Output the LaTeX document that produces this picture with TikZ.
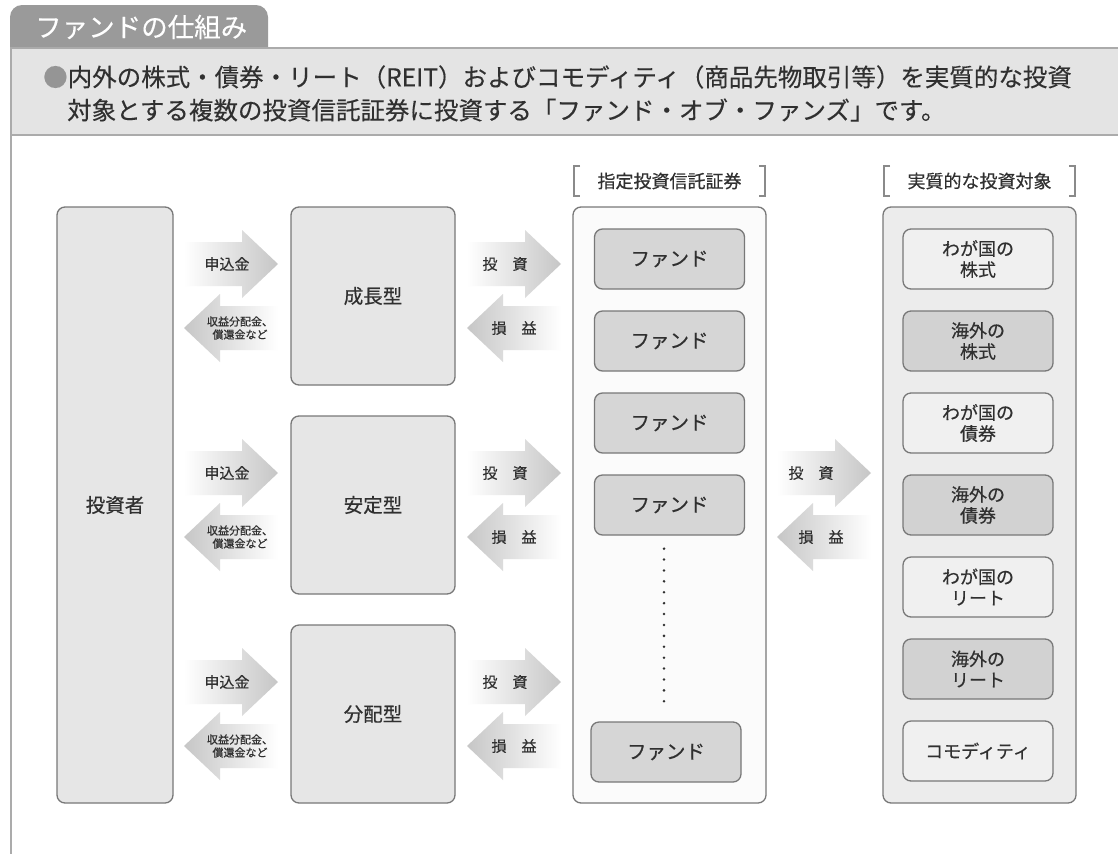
\documentclass[tikz,border=0pt]{standalone}
\usepackage{fontspec}
\setmainfont{Noto Sans CJK JP}[FakeBold=0.5]
\newfontfamily\jpthin{Noto Sans CJK JP}[FakeBold=0.25]
\usetikzlibrary{calc}
\definecolor{tabgray}{HTML}{9A9A9A}
\definecolor{hdrfill}{HTML}{E4E4E4}
\definecolor{hdrline}{HTML}{ABABAB}
\definecolor{bordergray}{HTML}{787878}
\definecolor{boxfill}{HTML}{E6E6E6}
\definecolor{fundfill}{HTML}{D6D6D6}
\definecolor{colfill}{HTML}{ECECEC}
\definecolor{assetlight}{HTML}{F0F0F0}
\definecolor{assetdark}{HTML}{D2D2D2}
\definecolor{fundcol}{HTML}{FBFBFB}
\definecolor{txt}{HTML}{303030}
\definecolor{bulletgray}{HTML}{959595}
\definecolor{arrowgray}{HTML}{C6C6C6}
\definecolor{brgray}{HTML}{8A8A8A}
\newcommand\rblock[2]{%
  \shade[left color=white, right color=arrowgray]
    ({#1},{#2-22}) -- ({#1+58},{#2-22}) -- ({#1+58},{#2-34}) -- ({#1+94},{#2})
    -- ({#1+58},{#2+34}) -- ({#1+58},{#2+22}) -- ({#1},{#2+22}) -- cycle;}
\newcommand\lblock[2]{%
  \shade[left color=arrowgray, right color=white]
    ({#1},{#2}) -- ({#1+36},{#2-34}) -- ({#1+36},{#2-22}) -- ({#1+94},{#2-22})
    -- ({#1+94},{#2+22}) -- ({#1+36},{#2+22}) -- ({#1+36},{#2+34}) -- cycle;}
\begin{document}
\begin{tikzpicture}[x=1pt,y=-1pt,
  bx/.style={draw=bordergray, line width=1.3pt, rounded corners=8pt, inner sep=0pt, text=txt},
  bigtxt/.style={font=\fontsize{19.5}{23}\selectfont},
  fundbox/.style={bx, fill=fundfill, minimum width=150pt, minimum height=60pt, font=\fontsize{19.5}{23}\selectfont},
  assetbox/.style={bx, minimum width=150pt, minimum height=60pt, align=center, font=\fontsize{18}{21}\selectfont},
  arrtxt/.style={text=txt, font=\fontsize{15}{17}\selectfont, inner sep=0pt},
  smalltxt/.style={text=txt, font=\fontsize{11}{13}\selectfont, align=center, inner sep=0pt},
  brk/.style={draw=brgray, line width=1.1pt},
  dotline/.style={draw=txt, line width=2.8pt, line cap=round, dash pattern=on 0pt off 10.9pt}
]
\useasboundingbox (0,0) rectangle (1118,854);
\fill[white] (0,0) rectangle (1118,854);
% tab
\fill[tabgray] (10,49) {[rounded corners=12pt] -- (10,5) -- (268,5)} -- (268,49) -- cycle;
\node[anchor=west, text=white, inner sep=0pt, font=\jpthin\fontsize{26.5}{26}\selectfont] (title) at (35,27) {ファンドの仕組み};
% header band
\fill[hdrfill] (10,48) rectangle (1118,135);
\draw[hdrline, line width=2pt] (10,48) -- (1118,48);
\draw[hdrline, line width=2pt] (10,135) -- (1118,135);
\draw[hdrline, line width=1.6pt] (11,48) -- (11,854);
\node[anchor=west, inner sep=0pt, text=txt, font=\jpthin\fontsize{24.5}{30}\selectfont] (h1) at (43,77)
  {{\color{bulletgray}●}内外の株式・債券・リート（REIT）およびコモディティ（商品先物取引等）を実質的な投資};
\node[anchor=west, inner sep=0pt, text=txt, font=\jpthin\fontsize{24.5}{30}\selectfont] (h2) at (67,110)
  {対象とする複数の投資信託証券に投資する「ファンド・オブ・ファンズ」です。};
% bracket labels
\draw[brk] (580,166) -- (574,166) -- (574,196) -- (580,196);
\draw[brk] (759,166) -- (765,166) -- (765,196) -- (759,196);
\node[text=txt, inner sep=0pt, font=\fontsize{18}{20}\selectfont] (lab1) at (669.5,181) {指定投資信託証券};
\draw[brk] (890,166) -- (884,166) -- (884,196) -- (890,196);
\draw[brk] (1069,166) -- (1075,166) -- (1075,196) -- (1069,196);
\node[text=txt, inner sep=0pt, font=\fontsize{18}{20}\selectfont] (lab2) at (979.5,181) {実質的な投資対象};
% investor
\node[bx, fill=boxfill, minimum width=116pt, minimum height=596pt, bigtxt] (inv) at (115,505) {投資者};
% types
\node[bx, fill=boxfill, minimum width=164pt, minimum height=178pt, bigtxt] (t1) at (373,296) {成長型};
\node[bx, fill=boxfill, minimum width=164pt, minimum height=178pt, bigtxt] (t2) at (373,505) {安定型};
\node[bx, fill=boxfill, minimum width=164pt, minimum height=178pt, bigtxt] (t3) at (373,714) {分配型};
% columns
\node[bx, fill=fundcol, minimum width=193pt, minimum height=596pt] (fcol) at (669.5,505) {};
\node[bx, fill=colfill, minimum width=193pt, minimum height=596pt] (acol) at (979.5,505) {};
% funds
\node[fundbox] (f1) at (669.5,259) {ファンド};
\node[fundbox] (f2) at (669.5,341) {ファンド};
\node[fundbox] (f3) at (669.5,423) {ファンド};
\node[fundbox] (f4) at (669.5,505) {ファンド};
\node[fundbox] (f5) at (666,752) {ファンド};
\draw[dotline] ([yshift=-13pt]f4.south -| 664,0) -- ([yshift=10pt]f5.north -| 664,0);
% assets
\node[assetbox, fill=assetlight] (a1) at (978,259) {わが国の\\株式};
\node[assetbox, fill=assetdark] (a2) at (978,341) {海外の\\株式};
\node[assetbox, fill=assetlight] (a3) at (978,423) {わが国の\\債券};
\node[assetbox, fill=assetdark] (a4) at (978,505) {海外の\\債券};
\node[assetbox, fill=assetlight] (a5) at (978,587) {わが国の\\リート};
\node[assetbox, fill=assetdark] (a6) at (978,669) {海外の\\リート};
\node[assetbox, fill=assetlight] (a7) at (978,751) {コモディティ};
% arrows investor <-> types and types <-> funds
\foreach \c/\n in {296/1,505/2,714/3}{
  \rblock{184}{\c-32}
  \lblock{184}{\c+32}
  \node[arrtxt] (in\n) at (227,\c-32) {申込金};
  \node[smalltxt] (out\n) at (240,\c+32) {収益分配金、\\償還金など};
  \rblock{467}{\c-32}
  \lblock{467}{\c+32}
  \node[arrtxt] (inv\n) at (505,\c-32) {投　資};
  \node[arrtxt] (pl\n) at (514,\c+32) {損　益};
}
% middle arrows
\rblock{777}{473}
\lblock{777}{537}
\node[arrtxt] (minv) at (811,473) {投　資};
\node[arrtxt] (mpl) at (821,537) {損　益};
\end{tikzpicture}
\end{document}
